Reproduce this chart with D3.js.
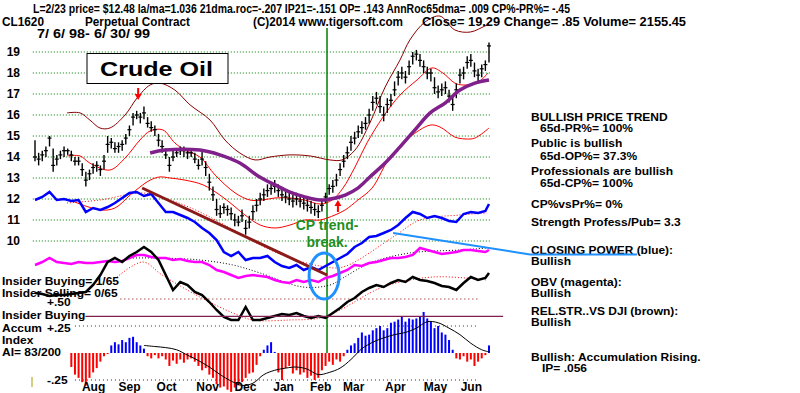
<!DOCTYPE html>
<html><head><meta charset="utf-8">
<script src="https://cdn.jsdelivr.net/npm/d3@7"></script>
<style>
body{margin:0;background:#fff;}
svg{display:block;font-family:"Liberation Sans",Arial,sans-serif;font-weight:bold;}
</style></head><body><svg id="c" width="800" height="393"></svg>
<script>
// ---------- DATA ----------
const priceTicks=[10,11,12,13,14,15,16,17,18,19];
const months=["Aug","Sep","Oct","Nov","Dec","Jan","Feb","Mar","Apr","May","Jun"];
const monthIdx=[16.0,25.9,36.1,47.4,57.8,68.3,78.5,87.6,99.1,110.1,120.0];
const closes=[14.0,13.9,14.1,14.3,14.9,13.6,13.9,14.1,14.3,14.3,14.1,13.8,13.8,13.4,12.9,13.2,13.5,13.6,13.4,13.8,
14.6,14.7,14.4,14.5,14.6,14.9,15.3,15.9,16.0,15.9,16.1,15.6,15.4,15.3,14.8,14.5,14.1,13.6,14.0,14.2,
14.3,14.3,14.2,14.2,13.9,13.6,13.9,13.5,12.8,12.2,11.5,11.3,11.6,11.5,11.3,11.0,10.9,11.2,10.6,10.9,
11.4,11.7,12.0,12.2,12.4,12.5,12.6,12.4,12.2,12.1,12.0,11.9,12.0,11.9,11.8,11.7,11.6,11.5,11.4,11.7,
12.1,12.5,12.6,12.9,13.4,13.8,14.2,14.7,14.9,15.2,15.4,15.6,16.0,16.6,16.8,16.4,16.0,16.5,16.7,17.2,
17.8,18.0,17.8,18.3,18.8,18.9,18.6,18.3,18.0,18.0,17.3,17.1,17.2,17.3,16.9,16.5,17.2,17.9,18.0,18.5,
18.6,18.1,17.9,18.2,18.4,19.29];
const highs=[14.8,14.2,14.3,14.5,15.0,14.4,14.1,14.3,14.5,14.4,14.3,14.0,14.0,13.7,13.3,13.4,13.7,13.8,13.6,14.1,
15.0,14.9,14.7,14.7,14.8,15.1,15.5,16.1,16.2,16.1,16.4,15.9,15.7,15.5,15.1,14.8,14.4,14.0,14.3,14.4,
14.5,14.5,14.4,14.4,14.2,13.9,14.3,13.8,13.2,12.6,12.0,11.7,11.8,11.7,11.6,11.3,11.2,11.5,11.0,11.2,
11.7,12.0,12.3,12.5,12.7,12.8,12.9,12.7,12.5,12.4,12.3,12.2,12.3,12.2,12.1,12.0,11.9,11.8,11.7,11.9,
12.3,12.7,12.9,13.2,13.7,14.1,14.5,15.0,15.2,15.5,15.7,15.9,16.3,16.9,17.1,16.9,16.4,16.8,17.0,17.6,
18.1,18.3,18.1,18.6,19.0,19.1,18.9,18.6,18.3,18.2,17.8,17.4,17.5,17.6,17.2,16.9,17.5,18.2,18.3,18.8,
18.9,18.5,18.2,18.4,18.6,19.45];
const lows=[13.8,13.6,13.8,14.0,14.5,13.3,13.6,13.9,14.0,14.1,13.8,13.6,13.6,13.1,12.6,12.9,13.2,13.3,13.1,13.4,
14.2,14.4,14.2,14.2,14.3,14.6,15.0,15.5,15.8,15.6,15.8,15.4,15.2,15.0,14.5,14.2,13.9,13.3,13.8,14.0,
14.1,14.0,13.9,14.0,13.7,13.4,13.6,13.1,12.4,11.9,11.2,11.1,11.3,11.2,11.0,10.7,10.7,10.9,10.3,10.6,
11.0,11.4,11.7,11.9,12.1,12.2,12.3,12.1,11.9,11.8,11.7,11.6,11.7,11.6,11.5,11.4,11.3,11.2,11.1,11.4,
11.8,12.2,12.3,12.6,13.1,13.5,13.9,14.3,14.6,14.9,15.1,15.3,15.6,16.2,16.5,16.1,15.7,16.1,16.4,16.9,
17.4,17.7,17.5,17.9,18.4,18.6,18.3,18.0,17.7,17.6,17.0,16.8,16.9,17.0,16.6,16.2,16.8,17.5,17.7,18.2,
18.3,17.8,17.6,17.8,18.1,18.5];
const upperBand=[[8.8,16.1],[12.4,16.1],[15.1,15.76],[17.9,15.38],[20.6,15.38],[24.8,16.0],[28.1,16.81],[31.7,17.43],[34.4,17.52],[38.5,17.19],[42.7,16.48],[48.2,15.76],[52.3,14.81],[56.4,14.19],[60.6,13.86],[64.7,14.0],[70.2,14.1],[75.7,14.05],[81.2,13.86],[84.5,13.86],[88.1,14.33],[92.2,15.62],[96.4,17.33],[100.5,18.62],[103.2,19.57],[107.4,20.43],[111.5,20.71],[115.6,20.05],[119.8,19.95],[123.9,20.24],[125,20.33]];
const ma21=[[8.8,14.05],[12.4,14.05],[15.1,13.71],[20.6,13.38],[24.8,13.95],[28.9,14.81],[31.7,15.24],[35.2,15.29],[38.5,14.67],[41.3,14.33],[45.4,14.0],[49.6,13.14],[55.1,12.29],[59.2,11.95],[62.5,11.95],[66.1,12.05],[70.2,12.05],[74.3,11.95],[78.5,11.76],[81.8,11.95],[84.8,12.52],[88.1,13.52],[91.4,14.67],[95.8,15.9],[100.5,16.95],[105.2,17.67],[109.3,18.24],[112.3,18.0],[115.6,17.52],[117.8,17.43],[121.7,17.52],[124.7,18.0]];
const lowerBand=[[9.6,11.95],[17.9,11.48],[22.0,11.57],[26.2,12.19],[28.9,12.57],[31.7,12.9],[34.4,13.05],[37.2,13.0],[41.3,12.9],[46.3,12.67],[50.9,12.19],[54.5,11.71],[57.8,11.24],[62.0,10.76],[66.1,10.62],[70.2,10.76],[74.3,11.0],[78.5,11.0],[82.6,11.24],[85.4,11.48],[88.9,11.95],[92.8,12.52],[97.7,14.0],[100.5,14.48],[103.2,14.95],[108.8,15.52],[111.5,15.43],[115.6,14.95],[118.4,14.86],[121.1,14.9],[125,15.38]];
const ma65=[[31.7,14.19],[35.8,14.33],[45.4,14.33],[50.9,14.1],[56.4,13.71],[61.4,13.1],[66.1,12.67],[70.2,12.33],[74.3,12.1],[78.5,11.95],[81.2,12.0],[85.4,12.19],[88.9,12.52],[92.2,13.05],[96.4,13.71],[100.5,14.48],[104.6,15.29],[108.8,16.1],[112.9,16.57],[117,17.19],[121.1,17.52],[125,17.67]];
const indIdx=[0,2,4,6,8,10,12,14,16,18,20,22,24,26,28,30,32,34,36,38,40,42,44,46,48,50,52,54,56,58,60,62,64,66,68,70,72,74,76,78,80,82,84,86,88,90,92,94,96,98,100,102,104,106,108,110,112,114,116,118,120,122,124,125];
const closingPower=[120,123,128,120,121,119,120,108,112,110,113,117,122,127,128,124,126,117,108,108,105,102,98,92,87,80,68,64,68,60,62,62,64,58,54,52,55,50,53,50,54,58,62,66,73,77,83,84,87,90,95,102,108,106,102,104,102,99,98,106,108,107,109,116];
const obv=[55,58,62,58,57,56,58,57,57,58,59,58,59,62,65,65,63,62,62,60,61,59,58,58,55,50,48,45,42,44,45,44,43,40,38,37,40,38,40,38,42,44,47,50,55,54,57,58,60,62,62,63,65,72,70,68,66,67,68,70,70,69,68,70];
const relStr=[27,26,24,25,25,26,27,28,35,45,58,62,58,64,68,73,68,60,45,30,38,35,28,25,18,10,3,0,0,13,0,0,2,4,6,5,7,4,2,4,2,7,12,18,22,28,32,35,33,37,40,38,43,40,39,37,34,33,30,37,43,40,42,47];
const cpMA=[[8.8,117],[17.9,120],[29.7,127],[37.2,120],[45.4,108],[53.7,92],[62,75],[70.2,62],[78.5,54],[84.8,53],[98.6,83],[106,100],[117,105],[124.4,107]];
const obvMA=[[27,62],[34.4,62],[45.4,60],[54.5,55],[62,47],[73.8,33],[81.2,35],[84.8,42],[92.2,57],[103.2,67],[117,70],[124.4,72]];
const rsMA=[[22.6,43],[29.7,58],[35,45],[45.4,23],[54.5,7],[60,0],[70.2,0],[78.5,2],[84,10],[95.8,33],[109.6,43],[124.4,40]];
const cpTrend=[[29.5,132],[80.4,45]];
const cpCallout=[98.6,87];
const ellipseAt=[79.6,44];
const aiStart=10;
const accum=[-0.13,-0.20,-0.23,-0.27,-0.30,-0.23,-0.18,-0.14,-0.08,-0.03,-0.01,
0.07,0.10,0.08,0.12,0.10,0.14,0.15,0.10,0.07,0.04,
-0.03,-0.05,-0.02,-0.05,-0.03,-0.06,-0.12,-0.07,-0.10,-0.06,
-0.09,-0.06,-0.05,-0.08,-0.12,-0.16,-0.14,-0.20,-0.23,-0.29,
-0.32,-0.31,-0.34,-0.36,-0.32,-0.30,-0.27,-0.23,-0.19,-0.18,
-0.11,-0.03,0.03,0.07,0.10,0.01,-0.18,-0.25,-0.14,-0.12,
-0.19,-0.16,-0.20,-0.18,-0.23,-0.21,-0.25,-0.23,-0.16,-0.12,
-0.08,-0.11,-0.06,-0.08,-0.03,0.03,0.07,0.09,0.14,0.19,
0.16,0.17,0.21,0.23,0.25,0.21,0.23,0.28,0.29,0.31,
0.34,0.29,0.32,0.31,0.32,0.34,0.38,0.32,0.29,0.23,
0.25,0.19,0.17,0.12,0.03,-0.05,-0.06,-0.03,-0.08,-0.06,
-0.12,-0.08,-0.05,-0.02,0.07];
const accumMA=[[30,0.07],[33,0.06],[36,0.05],[39,0.03],[42,-0.02],[45,-0.07],[48,-0.13],[51,-0.2],[54,-0.26],[57,-0.3],[60,-0.28],[63,-0.2],[66,-0.16],[69,-0.14],[72,-0.13],[75,-0.15],[78,-0.2],[81,-0.18],[84,-0.14],[87,-0.06],[90,0.04],[93,0.1],[96,0.14],[99,0.17],[102,0.19],[105,0.23],[108,0.29],[111,0.28],[114,0.23],[117,0.17],[120,0.09],[123,0.03],[125,0.01]];
const accumLevels=[0.5,0.25,-0.25];
const insiderLevel=0.34;
const signalDay=80.4;
const downArrow=[28.4,16.71];
const upArrow=[83.4,11.95];

// ---------- SCALES ----------
const svg=d3.select("#c");
const x=d3.scaleLinear([0,125],[35,489]);
const yP=d3.scaleLinear([10,19],[241,52]);
const yI=d3.scaleLinear([0,120],[320,200]);
const yA=d3.scaleLinear([-0.25,0.5],[380,299]);

// grid
svg.append("g").selectAll("line").data(priceTicks).join("line")
  .attr("x1",x(-0.6)).attr("x2",x(125.3)).attr("y1",d=>yP(d)).attr("y2",d=>yP(d))
  .attr("stroke","#007a00").attr("stroke-dasharray","1,2");

// accumulation dotted levels
const lvlCol=["#800000","#333","#800000"];
svg.append("g").selectAll("line").data(accumLevels).join("line")
  .attr("x1",(d,i)=>i===0?x(23.5):x(11)).attr("x2",x(122)).attr("y1",d=>yA(d)).attr("y2",d=>yA(d))
  .attr("stroke",(d,i)=>lvlCol[i]).attr("stroke-dasharray","1,3");

// accumulation histogram
svg.append("g").selectAll("rect").data(accum).join("rect")
  .attr("x",(d,k)=>x(aiStart+k)-1).attr("width",2)
  .attr("y",d=>Math.min(yA(d),yA(0))).attr("height",d=>Math.abs(yA(d)-yA(0)))
  .attr("fill",d=>d>=0?"#0000ff":"#ff0000");
const lp=d3.line().x(d=>x(d[0])).curve(d3.curveCatmullRom);
svg.append("path").attr("d",lp.y(d=>yA(d[1]))(accumMA)).attr("fill","none").attr("stroke","#000").attr("stroke-width",1);

// green signal line
svg.append("line").attr("x1",x(signalDay)).attr("x2",x(signalDay)).attr("y1",28).attr("y2",yA(0))
  .attr("stroke","#008000").attr("stroke-width",1.5);

// price bands
const pl=d3.line().x(d=>x(d[0])).y(d=>yP(d[1])).curve(d3.curveCatmullRom);
svg.append("path").attr("d",pl(upperBand)).attr("fill","none").attr("stroke","#8b0000").attr("stroke-width",1);
svg.append("path").attr("d",pl(lowerBand)).attr("fill","none").attr("stroke","#ff0000").attr("stroke-width",1);
svg.append("path").attr("d",pl(ma21)).attr("fill","none").attr("stroke","#ff0000").attr("stroke-width",1);

// price bars
const bars=svg.append("g").attr("stroke","#000");
bars.selectAll(".hl").data(closes).join("line").attr("class","hl")
  .attr("x1",(d,i)=>x(i)).attr("x2",(d,i)=>x(i)).attr("y1",(d,i)=>yP(highs[i])).attr("y2",(d,i)=>yP(lows[i])).attr("stroke-width",1.4);
bars.selectAll(".cl").data(closes).join("line").attr("class","cl")
  .attr("x1",(d,i)=>x(i)-2).attr("x2",(d,i)=>x(i)+2).attr("y1",d=>yP(d)).attr("y2",d=>yP(d)).attr("stroke-width",1.2);

svg.append("path").attr("d",pl(ma65)).attr("fill","none").attr("stroke","#80208a").attr("stroke-width",3.5);

// indicator lines
const il=d3.line().x((d,k)=>x(indIdx[k])).y(d=>yI(d));
const dl=d3.line().x(d=>x(d[0])).y(d=>yI(d[1])).curve(d3.curveCatmullRom);
svg.append("path").attr("d",dl(cpMA)).attr("fill","none").attr("stroke","#ff0000").attr("stroke-dasharray","1,2");
svg.append("path").attr("d",dl(obvMA)).attr("fill","none").attr("stroke","#000").attr("stroke-dasharray","1,2");
svg.append("path").attr("d",dl(rsMA)).attr("fill","none").attr("stroke","#ff0000").attr("stroke-dasharray","1,2");
svg.append("path").attr("d",il(obv)).attr("fill","none").attr("stroke","#ff00ff").attr("stroke-width",2.5);
svg.append("path").attr("d",il(relStr)).attr("fill","none").attr("stroke","#000").attr("stroke-width",2.5);
svg.append("path").attr("d",il(closingPower)).attr("fill","none").attr("stroke","#0000ff").attr("stroke-width",2.5);
svg.append("path").attr("d",d3.line().x(d=>x(d[0])).y(d=>yI(d[1]))(cpTrend)).attr("stroke","#8b1a1a").attr("stroke-width",3);

// ellipse
svg.append("ellipse").attr("cx",x(ellipseAt[0])).attr("cy",yI(ellipseAt[1])).attr("rx",15).attr("ry",23)
  .attr("fill","none").attr("stroke","#1e90ff").attr("stroke-width",3);

// arrows
function arrow(tx,ty,s){
  return `M${tx},${ty} L${tx-3.5},${ty-6*s} L${tx-1},${ty-6*s} L${tx-1},${ty-12*s} L${tx+1},${ty-12*s} L${tx+1},${ty-6*s} L${tx+3.5},${ty-6*s} Z`;
}
svg.append("path").attr("d",arrow(x(downArrow[0]),yP(downArrow[1]),1)).attr("fill","#ff0000");
svg.append("path").attr("d",arrow(x(upArrow[0]),yP(upArrow[1]),-1)).attr("fill","#ff0000");

// axes
const ay=svg.append("g").attr("transform","translate(20,0)")
  .call(d3.axisLeft(yP).tickValues(priceTicks).tickSize(0).tickPadding(0).tickFormat(d3.format("d")));
ay.select(".domain").remove();
ay.attr("font-family",null).attr("font-size",null);
ay.selectAll("text").attr("font-size",12).attr("fill","#000");
const ax=svg.append("g").attr("transform","translate(0,382)")
  .call(d3.axisBottom(x).tickValues(monthIdx).tickSize(0).tickPadding(0).tickFormat((d,i)=>months[i]));
ax.select(".domain").remove();
ax.attr("font-family",null).attr("font-size",null);
ax.selectAll("text").attr("font-size",12).attr("fill","#000");
svg.append("line").attr("x1",32).attr("x2",32).attr("y1",377).attr("y2",387).attr("stroke","#a0a000");

// texts
function txt(s,xx,yy,opt={}){
  const t=svg.append("text").attr("x",xx).attr("y",yy).attr("font-size",opt.size||12).attr("fill",opt.fill||"#000").text(s);
  if(opt.len) t.attr("textLength",opt.len).attr("lengthAdjust","spacingAndGlyphs");
  if(opt.anchor) t.attr("text-anchor",opt.anchor);
  return t;
}
function ctxt(s,xx,yy){
  const t=txt(s,xx,yy);
  const w=t.node().getComputedTextLength();
  t.attr("font-size",10.5).attr("textLength",w).attr("lengthAdjust","spacingAndGlyphs");
  return t;
}
txt("L=2/23  price= $12.48  la/ma=1.036 21dma.roc=-.207 IP21=-.151 OP= .143 AnnRoc65dma= .009 CP%-PR%= -.45",33,12.5,{len:537});
txt("CL1620",2,25.5,{len:42});
txt("Perpetual Contract",85,25.5,{len:105});
txt("(C)2014 www.tigersoft.com",253,25.5,{len:150});
txt("Close=  19.29  Change= .85 Volume= 2155.45",422,25.5,{len:264});
txt("7/ 6/ 98- 6/ 30/ 99",37,37.5,{len:113});

// title box
svg.append("rect").attr("x",87).attr("y",53.5).attr("width",141).attr("height",30).attr("fill","#fff").attr("stroke","#000");
txt("Crude Oil",100,76,{size:21,len:113});

// CP trend-break label
txt("CP trend-",x(signalDay),230,{size:14,fill:"#1f8f1f",anchor:"middle"});
txt("break.",x(signalDay),247,{size:14,fill:"#1f8f1f",anchor:"middle"});

// right panel
const rp=[["BULLISH PRICE TREND",531,121],["65d-PR%= 100%",540,132],["Public is bullish",531,147],["65d-OP%= 37.3%",540,160],
["Professionals are bullish",531,175],["65d-CP%= 100%",540,187],["CP%vsPr%=  0%",531,208],["Strength Profess/Pub= 3.3",531,226],
["Bullish",531,265],["OBV (magenta):",531,286],["Bullish",531,297],["REL.STR..VS DJI (brown):",531,315],["Bullish",531,326],
["Bullish: Accumulation Rising.",531,361],["IP=  .056",542,372]];
rp.forEach(r=>ctxt(r[0],r[1],r[2]));
const cpT=txt("",531,254).attr("font-size",10.5);
cpT.append("tspan").text("CLOSING POWER");
cpT.append("tspan").text(" (blue):");
cpT.attr("textLength",142).attr("lengthAdjust","spacingAndGlyphs");
const wCP=106;
svg.append("path").attr("d",`M${x(cpCallout[0])},${yI(cpCallout[1])} L530,254.5 L${531+wCP},254.5`)
  .attr("fill","none").attr("stroke","#1e90ff").attr("stroke-width",2);

// left indicator labels
ctxt("+.50",47,306);
ctxt("Insider Buying= 1/65",2,285);
ctxt("Insider Selling= 0/65",2,297);
const ib=ctxt("Insider Buying",2,319);
const ibEnd=2+ib.node().getComputedTextLength();
svg.append("line").attr("x1",ibEnd).attr("x2",x(128.9)).attr("y1",yA(insiderLevel)).attr("y2",yA(insiderLevel))
  .attr("stroke","#802050").attr("stroke-width",1.2);
ctxt("Accum",2,332);
ctxt("+.25",47,331.5);
ctxt("Index",2,344);
ctxt("AI= 83/200",2,356);
ctxt("-.25",47,384);
</script></body></html>
